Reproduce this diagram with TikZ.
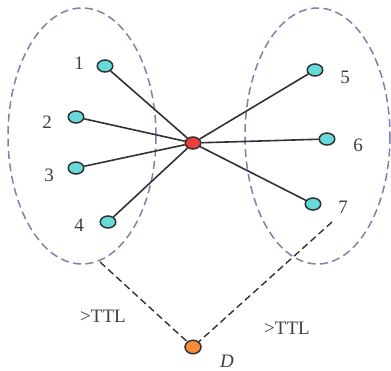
\documentclass[tikz,border=0pt]{standalone}
\usepackage{fontspec}
\setmainfont{Liberation Serif}
\usetikzlibrary{shapes.geometric}
\definecolor{nodecyan}{RGB}{102,217,217}
\definecolor{nodered}{RGB}{240,60,60}
\definecolor{nodeorange}{RGB}{245,140,60}
\definecolor{groupline}{RGB}{128,128,176}
\definecolor{edgegray}{RGB}{50,50,50}
\begin{document}
\begin{tikzpicture}[x=1pt,y=-1pt,
  vert/.style={ellipse,draw=edgegray,line width=1.5pt,minimum width=15.5pt,minimum height=12pt,inner sep=0pt,fill=nodecyan},
  hub/.style={vert,fill=nodered},
  dest/.style={vert,fill=nodeorange,minimum width=16pt,minimum height=13.5pt},
  lbl/.style={font=\fontsize{19}{19}\selectfont,text=black!75,inner sep=0pt},
  link/.style={draw=edgegray,line width=1.6pt},
  ttl/.style={draw=edgegray,line width=1.4pt,dash pattern=on 7pt off 4pt},
  group/.style={draw=groupline,line width=1.5pt,dash pattern=on 8pt off 4.5pt}]
\useasboundingbox (0,0) rectangle (391,370);
\fill[white] (0,0) rectangle (391,370);
\draw[group] (82,136) ellipse [x radius=74, y radius=128];
\draw[group] (317.5,136) ellipse [x radius=72.5, y radius=128];
\node[hub] (c) at (193,143) {};
\node[vert] (n1) at (105,66) {};
\node[vert] (n2) at (76,117) {};
\node[vert] (n3) at (76,168) {};
\node[vert] (n4) at (108,222) {};
\node[vert] (n5) at (315,70) {};
\node[vert] (n6) at (327,139) {};
\node[vert] (n7) at (313,204) {};
\node[dest] (d) at (193,347) {};
\foreach \n in {n1,n2,n3,n4,n5,n6,n7} \draw[link] (c) -- (\n);
\node[lbl] (l1) at (79,63) {1};
\node[lbl] (l2) at (47,122) {2};
\node[lbl] (l3) at (49,175) {3};
\node[lbl] (l4) at (79,225) {4};
\node[lbl] (l5) at (345,77) {5};
\node[lbl] (l6) at (358,145) {6};
\node[lbl] (l7) at (343,207) {7};
\node[lbl] (ld) at (227,361) {\itshape D};
\node[lbl] (t1) at (103,316) {>TTL};
\node[lbl] (t2) at (287,328) {>TTL};
\coordinate (a1) at (100,262);
\coordinate (a2) at (332,222);
\draw[ttl] (a1) -- (d);
\draw[ttl] (a2) -- (d);
\end{tikzpicture}
\end{document}
